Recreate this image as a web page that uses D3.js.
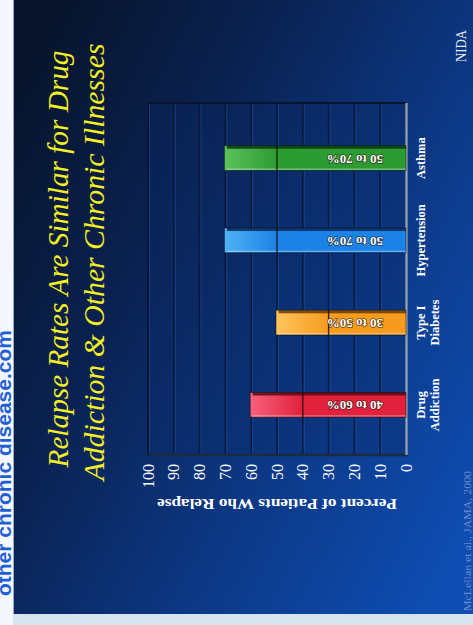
<!DOCTYPE html>
<html>
<head>
<meta charset="utf-8">
<script src="https://cdn.jsdelivr.net/npm/d3@7"></script>
<style>
  html, body { margin: 0; padding: 0; background: #ffffff; }
  svg { display: block; }
</style>
</head>
<body>
<svg id="chart" width="473" height="625"></svg>
<script>
// ---------- data ----------
const categories = ["Drug Addiction", "Type I Diabetes", "Hypertension", "Asthma"];
const categoryLines = [["Drug", "Addiction"], ["Type I", "Diabetes"], ["Hypertension"], ["Asthma"]];
const lowValues = [40, 30, 50, 50];
const highValues = [60, 50, 70, 70];
const valueLabels = ["40 to 60%", "30 to 50%", "50 to 70%", "50 to 70%"];
const tickValues = [0, 10, 20, 30, 40, 50, 60, 70, 80, 90, 100];
const titleLines = ["Relapse Rates Are Similar for Drug", "Addiction & Other Chronic Illnesses"];
const axisTitle = "Percent of Patients Who Relapse";
const sourceText = "McLellan et al., JAMA, 2000";
const logoText = "NIDA";
const stripText = "other chronic disease.com";

const baseColors = ["#e2213c", "#f59b1e", "#1b82e6", "#2c9c32"];
const lightColors = ["#f5607a", "#ffc45a", "#4fb2f4", "#5cc05c"];
const darkColors = ["#5a0a14", "#6a3a05", "#0a2a5a", "#0d3a12"];

// ---------- svg ----------
const svg = d3.select("#chart");
const W = 473, H = 625;
const defs = svg.append("defs");

const bg = defs.append("linearGradient").attr("id", "bg")
  .attr("x1", 0).attr("y1", 0.15).attr("x2", 1).attr("y2", 0.85);
bg.append("stop").attr("offset", "0").attr("stop-color", "#07142c");
bg.append("stop").attr("offset", "0.3").attr("stop-color", "#0a2150");
bg.append("stop").attr("offset", "0.65").attr("stop-color", "#0c3885");
bg.append("stop").attr("offset", "1").attr("stop-color", "#0e4db2");

// left white strip with clipped blue text
svg.append("rect").attr("x", 0).attr("y", 0).attr("width", W).attr("height", H).attr("fill", "#f4f7fb");
svg.append("text")
  .attr("transform", "translate(11,330) rotate(-90)")
  .attr("text-anchor", "end")
  .attr("font-family", "Liberation Sans, Arial, sans-serif")
  .attr("font-weight", "bold")
  .attr("font-size", 21)
  .attr("fill", "#1f5fd6")
  .text(stripText);

// slide background
svg.append("rect").attr("x", 13).attr("y", 0).attr("width", W - 13).attr("height", 614)
  .attr("fill", "url(#bg)");
svg.append("line").attr("x1", 13.5).attr("x2", 13.5).attr("y1", 0).attr("y2", 614)
  .attr("stroke", "#9aa8c0").attr("stroke-width", 1);
svg.append("rect").attr("x", 13).attr("y", 614).attr("width", W - 13).attr("height", 11)
  .attr("fill", "#d6e4f0");

// slide content drawn in original (unrotated) orientation, then rotated -90deg
const g = svg.append("g").attr("transform", `translate(0,${H}) rotate(-90)`);

const x = d3.scaleBand().domain(categories).range([179, 508]).paddingInner(0.7).paddingOuter(0.35);
const y = d3.scaleLinear().domain([0, 100]).range([406, 148]);

// title
const serif = "Liberation Serif, Times New Roman, serif";
const titleBase = [68, 104];
const titleLen = [417, 437];
const titleCx = [366, 363];
g.selectAll("text.title").data(titleLines).join("text")
  .attr("class", "title")
  .attr("x", (d, i) => titleCx[i])
  .attr("y", (d, i) => titleBase[i])
  .attr("text-anchor", "middle")
  .attr("font-family", serif)
  .attr("font-style", "italic")
  .attr("font-size", 29)
  .attr("textLength", (d, i) => titleLen[i])
  .attr("lengthAdjust", "spacingAndGlyphs")
  .attr("fill", "#f3ef22")
  .text(d => d);

// plot wall
const wallU0 = 170, wallU1 = 522;
g.append("rect").attr("x", wallU0).attr("y", y(100)).attr("width", wallU1 - wallU0).attr("height", y(0) - y(100))
  .attr("fill", "#0b2a66").attr("fill-opacity", 0.35);

// gridlines
const grid = tickValues.filter(t => t > 0);
g.selectAll("line.grid").data(grid).join("line")
  .attr("class", "grid")
  .attr("x1", wallU0).attr("x2", wallU1)
  .attr("y1", d => y(d)).attr("y2", d => y(d))
  .attr("stroke", "#061634").attr("stroke-width", 1.6).attr("stroke-opacity", 0.85);
g.selectAll("line.gridhi").data(grid).join("line")
  .attr("class", "gridhi")
  .attr("x1", wallU0).attr("x2", wallU1)
  .attr("y1", d => y(d) + 1.5).attr("y2", d => y(d) + 1.5)
  .attr("stroke", "#2a58a8").attr("stroke-width", 0.8).attr("stroke-opacity", 0.6);

// wall edges
g.append("line").attr("x1", wallU1).attr("x2", wallU1).attr("y1", y(100)).attr("y2", y(0))
  .attr("stroke", "#061430").attr("stroke-width", 2);
g.append("line").attr("x1", wallU0).attr("x2", wallU0).attr("y1", y(100)).attr("y2", y(0) + 2)
  .attr("stroke", "#1c2a44").attr("stroke-width", 2.5);
g.append("line").attr("x1", wallU0).attr("x2", wallU1).attr("y1", y(100)).attr("y2", y(100))
  .attr("stroke", "#061430").attr("stroke-width", 1.5);
// category axis line (gray)
g.append("line").attr("x1", wallU0).attr("x2", wallU1).attr("y1", y(0) + 0.5).attr("y2", y(0) + 0.5)
  .attr("stroke", "#9ea4ae").attr("stroke-width", 2.2);

// value axis labels
const yAxis = d3.axisLeft(y).tickValues(tickValues).tickSize(0).tickPadding(9).tickFormat(d3.format("d"));
const ya = g.append("g").attr("transform", `translate(${wallU0},0)`).call(yAxis);
ya.select(".domain").remove();
ya.selectAll("text")
  .attr("font-family", serif)
  .attr("font-size", 16)
  .attr("fill", "#ffffff");

// axis title
g.append("text")
  .attr("transform", `translate(126,${y(50)}) rotate(-90)`)
  .attr("text-anchor", "middle")
  .attr("font-family", serif)
  .attr("font-weight", "bold")
  .attr("font-size", 15)
  .attr("textLength", 240)
  .attr("lengthAdjust", "spacingAndGlyphs")
  .attr("fill", "#ffffff")
  .text(axisTitle);

// bars
const bw = x.bandwidth();
const bars = g.selectAll("g.bar").data(categories).join("g").attr("class", "bar");

categories.forEach((c, i) => {
  const lg = defs.append("linearGradient").attr("id", "rg" + i)
    .attr("x1", 0).attr("y1", 0).attr("x2", 0).attr("y2", 1);
  lg.append("stop").attr("offset", "0").attr("stop-color", lightColors[i]);
  lg.append("stop").attr("offset", "1").attr("stop-color", baseColors[i]);
});

// base segment (0 -> low)
bars.append("rect")
  .attr("x", d => x(d))
  .attr("y", (d, i) => y(lowValues[i]))
  .attr("width", bw)
  .attr("height", (d, i) => y(0) - y(lowValues[i]))
  .attr("fill", (d, i) => baseColors[i]);
// range segment (low -> high)
bars.append("rect")
  .attr("x", d => x(d))
  .attr("y", (d, i) => y(highValues[i]))
  .attr("width", bw)
  .attr("height", (d, i) => y(lowValues[i]) - y(highValues[i]))
  .attr("fill", (d, i) => `url(#rg${i})`);
// dark side face
bars.append("rect")
  .attr("x", d => x(d) + bw - 3)
  .attr("y", (d, i) => y(highValues[i]))
  .attr("width", 3)
  .attr("height", (d, i) => y(0) - y(highValues[i]))
  .attr("fill", (d, i) => darkColors[i]).attr("fill-opacity", 0.85);
// light left highlight
bars.append("rect")
  .attr("x", d => x(d) + 0.5)
  .attr("y", (d, i) => y(highValues[i]))
  .attr("width", 1.5)
  .attr("height", (d, i) => y(0) - y(highValues[i]))
  .attr("fill", "#ffffff").attr("fill-opacity", 0.35);
// top cap
bars.append("rect")
  .attr("x", d => x(d))
  .attr("y", (d, i) => y(highValues[i]) - 1)
  .attr("width", bw)
  .attr("height", 2.5)
  .attr("fill", (d, i) => lightColors[i]);
// divider between segments
bars.append("line")
  .attr("x1", d => x(d)).attr("x2", d => x(d) + bw)
  .attr("y1", (d, i) => y(lowValues[i])).attr("y2", (d, i) => y(lowValues[i]))
  .attr("stroke", "#1a0a05").attr("stroke-width", 1.4).attr("stroke-opacity", 0.8);
// outline
bars.append("rect")
  .attr("x", d => x(d))
  .attr("y", (d, i) => y(highValues[i]) - 1)
  .attr("width", bw)
  .attr("height", (d, i) => y(0) - y(highValues[i]) + 1)
  .attr("fill", "none").attr("stroke", "#000000").attr("stroke-opacity", 0.45).attr("stroke-width", 1);

// value labels (rotated, reading upward)
bars.append("text")
  .attr("transform", d => `translate(${x(d) + bw / 2 - 1},${y(0) - 23}) rotate(-90)`)
  .attr("text-anchor", "start")
  .attr("dominant-baseline", "central")
  .attr("font-family", serif)
  .attr("font-weight", "bold")
  .attr("font-size", 13)
  .attr("fill", "#ffffff")
  .attr("stroke", "#2a1a10").attr("stroke-width", 1.6).attr("stroke-opacity", 0.7)
  .attr("paint-order", "stroke")
  .text((d, i) => valueLabels[i]);

// category labels
const catLabels = g.selectAll("text.cat").data(categories).join("text")
  .attr("class", "cat")
  .attr("text-anchor", "middle")
  .attr("font-family", serif)
  .attr("font-weight", "bold")
  .attr("font-size", 12.5)
  .attr("fill", "#ffffff");
catLabels.each(function(d, i) {
  const t = d3.select(this);
  categoryLines[i].forEach((line, j) => {
    t.append("tspan")
      .attr("x", x(d) + bw / 2)
      .attr("y", 425 + j * 14)
      .text(line);
  });
});

// logo & source
g.append("text")
  .attr("x", 579).attr("y", 466)
  .attr("text-anchor", "middle")
  .attr("font-family", serif)
  .attr("font-size", 15)
  .attr("textLength", 32)
  .attr("lengthAdjust", "spacingAndGlyphs")
  .attr("fill", "#e8eef8")
  .text(logoText);
g.append("text")
  .attr("x", 14).attr("y", 471)
  .attr("font-family", serif)
  .attr("font-size", 11)
  .attr("textLength", 140)
  .attr("lengthAdjust", "spacingAndGlyphs")
  .attr("fill", "#6f8cc8")
  .text(sourceText);
</script>
</body>
</html>
